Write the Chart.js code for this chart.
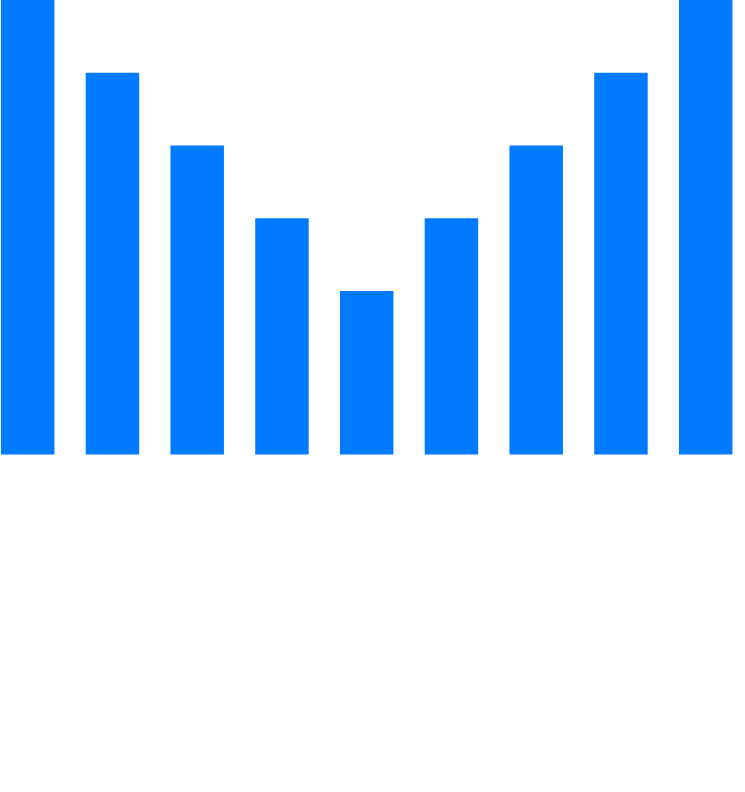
<!DOCTYPE html>
<html>
<head>
<meta charset="utf-8">
<script src="https://cdn.jsdelivr.net/npm/chart.js@4"></script>
<style>
html,body{margin:0;padding:0;background:#fff;}
#wrap{width:745px;height:792px;}
</style>
</head>
<body>
<div id="wrap"><canvas id="c" width="745" height="792"></canvas></div>
<script>
const categories = ['1','2','3','4','5','6','7','8','9'];
const values = [100, 84, 68, 52, 36, 52, 68, 84, 100];
const barColor = '#007bff';

new Chart(document.getElementById('c'), {
  type: 'bar',
  data: {
    labels: categories,
    datasets: [{
      data: values,
      backgroundColor: barColor,
      borderWidth: 0,
      clip: false,
      categoryPercentage: 1,
      barPercentage: 0.631
    }]
  },
  options: {
    responsive: false,
    animation: false,
    layout: { padding: { left: 27.7, right: 39.3, top: 0, bottom: 337.5 } },
    plugins: { legend: { display: false }, tooltip: { enabled: false }, title: { display: false } },
    scales: {
      x: { display: false, offset: false, grid: { display: false } },
      y: { display: false, min: 0, max: 100, grid: { display: false } }
    }
  }
});
</script>
</body>
</html>
